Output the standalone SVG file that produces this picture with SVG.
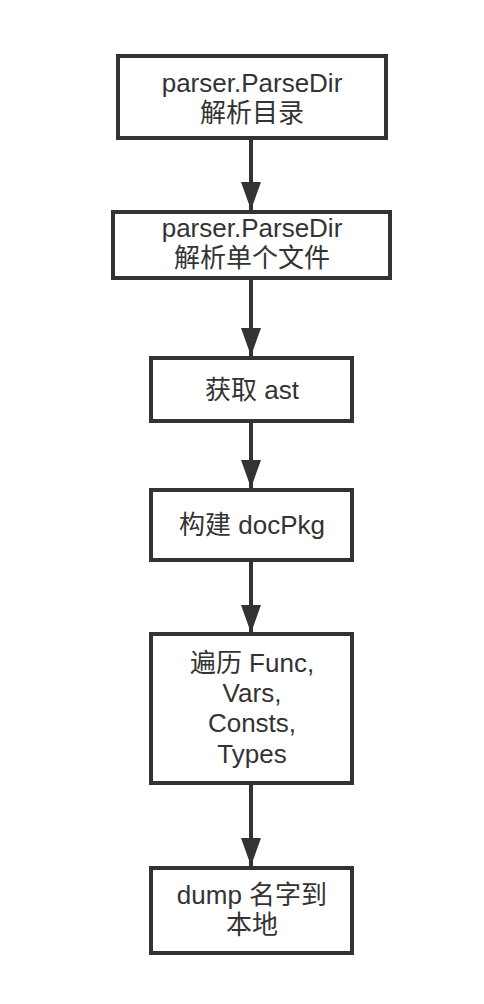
<svg xmlns="http://www.w3.org/2000/svg" width="484" height="1004" viewBox="0 0 484 1004">
<defs>
<style>
.box{fill:#fff;stroke:#333;stroke-width:4}
.lbl{font-family:"Liberation Sans","Noto Sans CJK SC",sans-serif;font-size:26px;fill:#333;text-anchor:middle}
.edge{stroke:#333;stroke-width:4;fill:none}
</style>
<marker id="arr" viewBox="0 0 28 20" refX="28" refY="10" markerWidth="28" markerHeight="20" orient="auto" markerUnits="userSpaceOnUse">
<path d="M0,0 L28,10 L0,20 Z" fill="#333"/>
</marker>
</defs>
<rect width="484" height="1004" fill="#fff"/>
<g id="connectors">
<line class="edge" x1="251" y1="138" x2="251" y2="210" marker-end="url(#arr)"/>
<line class="edge" x1="251" y1="278" x2="251" y2="356" marker-end="url(#arr)"/>
<line class="edge" x1="251" y1="421" x2="251" y2="488" marker-end="url(#arr)"/>
<line class="edge" x1="251" y1="560" x2="251" y2="633" marker-end="url(#arr)"/>
<line class="edge" x1="251" y1="783" x2="251" y2="866" marker-end="url(#arr)"/>
</g>
<g id="n1">
<rect class="box" x="118" y="56" width="268" height="82"/>
<text class="lbl" x="252" y="92">parser.ParseDir</text>
<text class="lbl" x="252" y="122">解析目录</text>
</g>
<g id="n2">
<rect class="box" x="113" y="212" width="277" height="66"/>
<text class="lbl" x="252" y="237">parser.ParseDir</text>
<text class="lbl" x="252" y="267">解析单个文件</text>
</g>
<g id="n3">
<rect class="box" x="151" y="358" width="201" height="63"/>
<text class="lbl" x="252" y="399">获取 ast</text>
</g>
<g id="n4">
<rect class="box" x="151" y="490" width="201" height="70"/>
<text class="lbl" x="252" y="534">构建 docPkg</text>
</g>
<g id="n5">
<rect class="box" x="151" y="634" width="201" height="149"/>
<text class="lbl" x="252" y="672">遍历 Func,</text>
<text class="lbl" x="252" y="702">Vars,</text>
<text class="lbl" x="252" y="732">Consts,</text>
<text class="lbl" x="252" y="763">Types</text>
</g>
<g id="n6">
<rect class="box" x="151" y="868" width="201" height="85"/>
<text class="lbl" x="252" y="904">dump 名字到</text>
<text class="lbl" x="252" y="934">本地</text>
</g>
</svg>
